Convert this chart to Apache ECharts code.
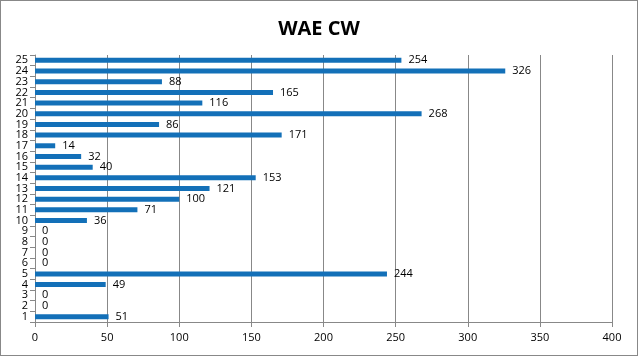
<!DOCTYPE html>
<html><head><meta charset="utf-8">
<script src="https://cdn.jsdelivr.net/npm/echarts@6/dist/echarts.min.js"></script>
<style>html,body{margin:0;padding:0;background:#fff}#c{width:638px;height:356px;box-sizing:border-box;border:1px solid #888}</style>
</head><body><div id="c"></div>
<script>
const categories = ['1','2','3','4','5','6','7','8','9','10','11','12','13','14','15','16','17','18','19','20','21','22','23','24','25'];
const values = [51,0,0,49,244,0,0,0,0,36,71,100,121,153,40,32,14,171,86,268,116,165,88,326,254];
const xTicks = {min:0, max:400, interval:50};
const title = 'WAE CW';

const chart = echarts.init(document.getElementById('c'), null, {renderer:'canvas'});
const font = 'Open Sans, Lato, sans-serif';
chart.setOption({
  animation:false,
  title:{text:title, left:'center', top:13, textStyle:{fontFamily:font, fontSize:20, fontWeight:'bold', color:'#000'}},
  grid:{left:34, right:25, top:54, bottom:33},
  xAxis:{type:'value', min:xTicks.min, max:xTicks.max, interval:xTicks.interval,
    axisLine:{show:true, lineStyle:{color:'#888'}},
    axisTick:{show:true, length:5, lineStyle:{color:'#888'}},
    axisLabel:{fontFamily:font, fontSize:11, color:'#000', margin:10},
    splitLine:{show:true, lineStyle:{color:'#888'}}},
  yAxis:{type:'category', data:categories, boundaryGap:true,
    axisLine:{show:true, lineStyle:{color:'#888'}},
    axisTick:{show:true, length:5, alignWithLabel:false, interval:0, lineStyle:{color:'#888'}},
    axisLabel:{fontFamily:font, fontSize:11, color:'#000', margin:7, interval:0, lineHeight:11},
    splitLine:{show:false}},
  series:[{type:'bar', data:values, barWidth:5, itemStyle:{color:'#1370B8'},
    label:{show:true, position:'right', distance:7, fontFamily:font, fontSize:11, color:'#000'}}]
});
</script></body></html>
